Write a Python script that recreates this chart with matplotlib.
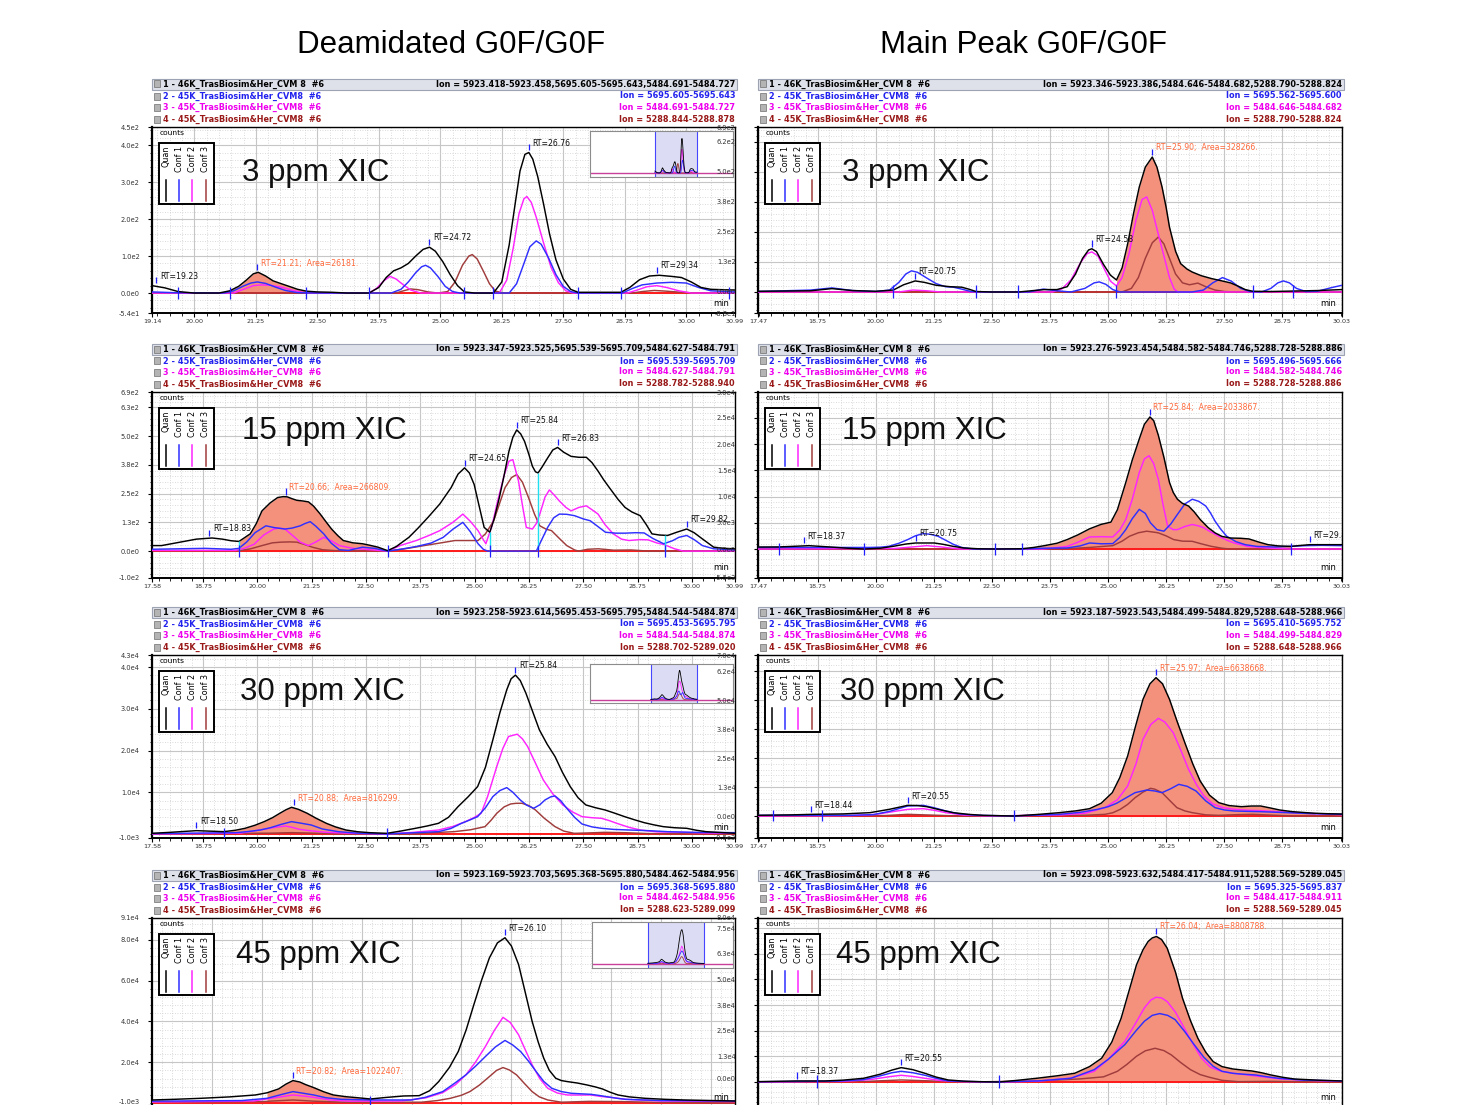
import matplotlib
matplotlib.use("Agg")
import numpy as np
import matplotlib.pyplot as plt
from matplotlib.patches import Rectangle
from matplotlib.ticker import MultipleLocator

# ---- chromatogram traces, (minutes, counts) ----
# row 1, deamidated, 3 ppm
p1_quan = [(19.14,20),(19.4,14),(19.67,4),(20.0,0),(20.5,0),(20.72,6),(20.9,18),(21.05,34),(21.2,52),(21.3,56),
           (21.45,46),(21.6,33),(21.75,26),(21.95,17),(22.1,10),(22.28,5),(22.5,3),(22.8,2),(23.1,0),(23.55,0),
           (23.75,15),(23.9,42),(24.05,60),(24.2,68),(24.35,80),(24.5,100),(24.65,118),(24.78,124),(24.9,113),
           (25.05,85),(25.2,50),(25.35,20),(25.49,3),(25.7,0),(26.08,0),(26.25,30),(26.4,130),(26.52,240),
           (26.62,330),(26.72,375),(26.8,380),(26.88,362),(26.98,315),(27.1,240),(27.22,160),(27.35,90),
           (27.5,38),(27.65,10),(27.8,2),(28.67,2),(28.85,15),(29.05,36),(29.25,46),(29.45,48),(29.7,45),
           (29.9,42),(30.1,30),(30.3,15),(30.5,10),(30.99,8)]
p1_conf1 = [(19.14,3),(19.6,1),(20.6,0),(20.8,6),(21.0,19),(21.15,27),(21.28,30),(21.45,26),(21.65,16),(21.85,7),
            (22.1,1),(22.5,0),(24.0,0),(24.2,10),(24.35,30),(24.5,55),(24.62,71),(24.7,75),(24.8,68),(24.95,45),
            (25.1,18),(25.25,4),(25.4,0),(26.4,0),(26.55,25),(26.7,80),(26.82,125),(26.95,141),(27.05,132),
            (27.2,95),(27.35,50),(27.5,18),(27.65,4),(27.8,0),(28.7,0),(28.9,12),(29.1,22),(29.4,27),(29.7,29),
            (30.0,27),(30.25,15),(30.5,6),(30.99,3)]
p1_conf2 = [(19.14,0),(20.8,0),(21.0,10),(21.2,20),(21.35,22),(21.55,21),(21.8,15),(22.0,7),(22.2,2),(22.4,0),
            (23.55,0),(23.7,12),(23.85,33),(23.98,45),(24.1,38),(24.25,22),(24.4,8),(24.6,0),(26.2,0),(26.35,35),
            (26.48,120),(26.6,215),(26.7,255),(26.76,261),(26.85,245),(26.95,205),(27.1,135),(27.25,70),
            (27.4,28),(27.55,6),(27.7,0),(28.8,0),(29.0,8),(29.2,17),(29.4,20),(29.6,15),(29.85,6),(30.1,0),(30.99,0)]
p1_conf3 = [(19.14,0),(24.1,0),(24.25,6),(24.4,11),(24.55,9),(24.75,3),(24.95,0),(25.15,4),(25.3,30),(25.45,75),
            (25.58,100),(25.65,104),(25.75,92),(25.88,58),(26.0,25),(26.12,5),(26.3,0),(28.9,0),(29.1,4),
            (29.35,7),(29.6,5),(29.9,2),(30.2,0),(30.99,0)]

# row 1, main peak, 3 ppm
p2_quan = [(17.47,3),(18.6,5),(19.06,14),(19.5,6),(20.0,3),(20.38,8),(20.6,30),(20.85,46),(21.05,40),(21.3,28),
           (21.6,22),(21.85,20),(22.0,12),(22.16,2),(22.5,0),(23.07,0),(23.4,6),(23.63,10),(23.9,10),(24.12,22),
           (24.3,75),(24.45,140),(24.58,175),(24.65,180),(24.75,168),(24.9,115),(25.05,70),(25.18,50),(25.3,100),
           (25.42,200),(25.55,330),(25.67,437),(25.8,520),(25.95,562),(26.05,520),(26.16,437),(26.25,350),
           (26.32,270),(26.45,170),(26.56,118),(26.7,95),(26.81,83),(27.0,68),(27.22,56),(27.45,46),(27.63,38),
           (27.8,24),(27.95,10),(28.11,3),(28.5,2),(29.0,4),(29.5,6),(30.03,10)]
p2_conf1 = [(17.47,2),(18.6,8),(19.06,17),(19.5,6),(20.0,2),(20.3,8),(20.5,40),(20.65,75),(20.77,88),(20.9,82),
            (21.1,58),(21.3,35),(21.5,22),(21.67,20),(21.85,12),(22.05,2),(22.3,0),(23.3,0),(23.6,12),(23.9,5),
            (24.2,0),(24.5,15),(24.7,38),(24.81,42),(24.95,32),(25.1,10),(25.25,0),(26.8,0),(27.05,8),(27.25,38),
            (27.46,60),(27.65,45),(27.85,15),(28.05,2),(28.3,0),(28.5,15),(28.65,38),(28.77,46),(28.9,38),
            (29.05,15),(29.25,2),(29.5,3),(29.8,18),(30.03,28)]
p2_conf2 = [(17.47,0),(20.5,0),(20.8,8),(21.1,5),(21.4,0),(23.8,0),(24.0,12),(24.2,50),(24.4,120),(24.55,160),
            (24.65,167),(24.78,150),(24.92,95),(25.05,45),(25.18,25),(25.3,60),(25.45,160),(25.6,300),(25.73,385),
            (25.83,396),(25.95,340),(26.08,240),(26.2,150),(26.32,60),(26.42,12),(26.5,0),(30.03,0)]
p2_conf3 = [(17.47,0),(25.3,0),(25.5,15),(25.65,60),(25.8,140),(25.95,205),(26.08,229),(26.2,200),(26.32,140),
            (26.45,75),(26.6,38),(26.75,30),(26.93,37),(27.1,22),(27.3,8),(27.5,2),(27.7,0),(30.03,0)]

# row 2, deamidated, 15 ppm
p3_quan = [(17.58,24),(17.8,24),(18.2,38),(18.6,52),(18.96,57),(19.2,52),(19.4,45),(19.58,42),(19.84,75),
           (19.98,120),(20.11,175),(20.3,210),(20.47,233),(20.6,237),(20.69,236),(20.8,228),(20.91,221),
           (21.05,218),(21.18,214),(21.3,195),(21.45,161),(21.58,128),(21.71,96),(21.85,68),(21.98,46),(22.2,36),
           (22.42,32),(22.6,25),(22.78,17),(23.0,2),(23.2,20),(23.49,60),(23.7,100),(23.93,147),(24.2,205),
           (24.46,276),(24.62,335),(24.77,362),(24.88,340),(24.99,290),(25.1,200),(25.22,103),(25.35,82),
           (25.45,140),(25.57,233),(25.68,330),(25.79,434),(25.88,495),(25.97,527),(26.06,510),(26.15,477),
           (26.25,420),(26.33,369),(26.4,345),(26.46,340),(26.55,365),(26.68,405),(26.8,440),(26.91,451),
           (27.05,430),(27.22,412),(27.4,408),(27.57,408),(27.7,385),(27.84,348),(27.97,310),(28.1,276),
           (28.3,225),(28.46,190),(28.62,170),(28.81,154),(28.95,115),(29.08,75),(29.25,70),(29.44,68),
           (29.65,82),(29.88,96),(30.05,80),(30.24,53),(30.5,17),(30.75,12),(30.99,10)]
p3_conf1 = [(17.58,8),(18.8,12),(19.4,8),(19.58,12),(19.76,40),(19.95,80),(20.2,110),(20.4,102),(20.64,96),
            (20.8,100),(20.99,110),(21.1,120),(21.22,128),(21.35,108),(21.53,75),(21.7,35),(21.89,6),(22.1,3),
            (22.42,17),(22.7,12),(23.0,0),(23.3,8),(23.66,20),(24.0,35),(24.28,60),(24.5,95),(24.73,125),
            (24.9,85),(25.08,32),(25.2,8),(25.3,0),(26.42,0),(26.52,40),(26.68,103),(26.82,145),(26.95,161),
            (27.12,160),(27.3,154),(27.5,140),(27.66,132),(27.85,105),(28.01,82),(28.25,78),(28.46,78),(28.7,80),
            (28.9,79),(29.1,55),(29.35,32),(29.55,45),(29.7,60),(29.88,68),(30.05,50),(30.24,24),(30.5,10),(30.99,5)]
p3_conf2 = [(17.58,3),(19.5,3),(19.7,12),(19.93,30),(20.15,70),(20.38,96),(20.5,100),(20.64,96),(20.8,70),
            (20.99,39),(21.18,24),(21.35,40),(21.53,60),(21.7,45),(21.89,24),(22.2,12),(22.6,6),(23.0,0),(23.3,25),
            (23.66,46),(23.95,68),(24.2,89),(24.5,125),(24.73,161),(24.9,130),(25.08,89),(25.2,50),(25.26,32),
            (25.4,110),(25.53,218),(25.68,330),(25.79,391),(25.88,398),(25.96,340),(26.01,305),(26.1,200),
            (26.19,103),(26.33,96),(26.42,120),(26.5,161),(26.62,235),(26.72,266),(26.85,240),(26.95,218),
            (27.1,190),(27.22,175),(27.4,190),(27.57,197),(27.7,180),(27.84,161),(28.0,115),(28.19,75),(28.38,52),
            (28.55,46),(28.8,50),(28.99,49),(29.2,35),(29.35,29),(29.6,10),(29.8,0),(30.99,0)]
p3_conf3 = [(17.58,2),(19.6,2),(19.85,10),(20.11,24),(20.35,36),(20.55,39),(20.75,40),(20.91,39),(21.1,28),
            (21.27,17),(21.5,6),(21.8,2),(23.0,0),(23.4,10),(23.84,24),(24.2,35),(24.55,46),(24.85,46),(25.08,46),
            (25.25,75),(25.44,132),(25.58,210),(25.7,276),(25.85,320),(25.97,333),(26.1,300),(26.24,233),
            (26.38,160),(26.5,110),(26.65,95),(26.77,89),(26.95,55),(27.12,24),(27.3,5),(27.39,0),(27.6,8),
            (27.85,10),(28.2,4),(28.6,5),(29.0,0),(30.99,0)]

# row 2, main peak, 15 ppm
p4_quan = [(17.47,380),(17.92,400),(18.2,500),(18.57,640),(19.0,400),(19.4,150),(19.75,0),(20.1,150),(20.4,550),
           (20.65,950),(20.86,1150),(21.05,1150),(21.26,1150),(21.45,900),(21.67,500),(21.9,200),(22.2,50),
           (22.57,0),(23.14,50),(23.4,300),(23.63,640),(23.9,1100),(24.12,1800),(24.35,2700),(24.6,3850),
           (24.85,4700),(25.06,5130),(25.2,7500),(25.38,12700),(25.52,17000),(25.67,21000),(25.78,23800),
           (25.9,25200),(25.98,24500),(26.08,21700),(26.2,17500),(26.32,12700),(26.4,10800),(26.49,9500),
           (26.6,8700),(26.73,8200),(26.85,7100),(26.98,5640),(27.15,4100),(27.3,3080),(27.45,2400),(27.63,2100),
           (27.85,2050),(28.03,1920),(28.25,1300),(28.44,830),(28.65,600),(28.93,500),(29.1,650),(29.34,830),
           (29.7,830),(30.03,830)]
p4_conf1 = [(17.47,300),(19.5,300),(19.87,300),(20.1,350),(20.28,510),(20.5,1100),(20.69,1800),(20.85,2500),
            (21.02,2950),(21.18,2800),(21.34,2440),(21.5,1700),(21.67,900),(21.85,300),(22.1,0),(23.14,0),
            (23.6,150),(24.12,200),(24.4,600),(24.6,1150),(24.85,1000),(25.1,1030),(25.25,2200),(25.38,3700),
            (25.52,5800),(25.67,7560),(25.8,6800),(25.91,5000),(26.05,3700),(26.2,3400),(26.35,4800),(26.49,6600),
            (26.65,8600),(26.81,9500),(26.95,9100),(27.1,8200),(27.2,6900),(27.3,5320),(27.42,3800),(27.55,2440),
            (27.75,1400),(27.95,830),(28.2,500),(28.6,380),(29.26,640),(29.6,700),(30.03,640)]
p4_conf2 = [(17.47,0),(20.4,100),(20.8,400),(21.1,640),(21.4,400),(21.8,0),(23.6,0),(24.12,500),(24.35,1300),
            (24.6,2300),(24.85,2350),(25.1,2300),(25.25,3600),(25.38,5640),(25.52,9500),(25.67,14600),(25.78,17200),
            (25.88,17800),(25.98,16300),(26.08,13300),(26.18,8500),(26.28,4360),(26.4,3700),(26.49,3700),
            (26.65,4300),(26.81,4680),(26.95,4400),(27.06,4040),(27.2,3300),(27.38,2440),(27.55,1700),
            (27.71,1150),(28.0,500),(28.4,200),(28.9,0),(30.03,0)]
p4_conf3 = [(17.47,0),(24.0,0),(24.6,300),(25.1,640),(25.3,1500),(25.46,2440),(25.65,3100),(25.83,3400),(26.0,3200),
            (26.08,3080),(26.25,2500),(26.41,1800),(26.6,1500),(26.81,1470),(27.0,1000),(27.22,510),(27.45,150),
            (27.63,0),(30.03,0)]

# row 3, deamidated, 30 ppm
p5_quan = [(17.58,160),(18.0,400),(18.6,800),(19.0,650),(19.23,560),(19.5,900),(19.72,1360),(19.95,2100),
           (20.16,2960),(20.35,3900),(20.52,4960),(20.66,5800),(20.79,6400),(20.95,5900),(21.15,4960),(21.35,3800),
           (21.59,2560),(21.8,1700),(22.04,960),(22.3,550),(22.58,320),(22.98,160),(23.3,700),(23.64,1360),
           (23.9,1900),(24.17,2560),(24.4,4000),(24.62,6560),(24.85,8900),(25.07,11360),(25.25,16000),
           (25.42,22560),(25.58,29000),(25.74,34560),(25.84,37200),(25.94,38080),(26.05,36800),(26.18,33760),
           (26.33,29500),(26.49,24960),(26.67,21500),(26.85,18560),(27.02,14800),(27.2,11360),(27.38,8700),
           (27.56,6960),(27.78,6300),(28.0,5760),(28.22,5000),(28.45,4160),(28.68,3400),(28.9,2720),(29.12,2200),
           (29.34,1760),(29.6,1500),(29.88,1360),(30.1,900),(30.32,560),(30.99,160)]
p5_conf1 = [(17.58,100),(19.5,300),(19.8,600),(20.07,960),(20.3,1500),(20.55,2300),(20.79,2960),(21.0,2600),
            (21.24,2160),(21.5,1200),(21.86,560),(22.3,200),(22.98,0),(23.6,300),(24.17,560),(24.45,1300),
            (24.7,2560),(24.9,3400),(25.07,4160),(25.25,6300),(25.42,8960),(25.58,10400),(25.74,11120),
            (25.88,10000),(26.05,8160),(26.2,6900),(26.36,6160),(26.5,7000),(26.62,8160),(26.75,8900),(26.85,9120),
            (26.98,8000),(27.12,6160),(27.3,4000),(27.47,2400),(27.7,1700),(27.92,1360),(28.2,1100),(28.54,960),
            (29.0,800),(29.43,560),(30.0,400),(30.99,320)]
p5_conf2 = [(17.58,0),(19.6,200),(20.07,960),(20.35,1500),(20.65,1920),(20.8,1600),(20.97,1120),(21.2,800),
            (21.59,400),(22.2,150),(22.98,0),(23.6,400),(24.17,960),(24.5,1800),(24.79,2960),(25.0,4000),
            (25.15,4960),(25.3,9000),(25.51,16160),(25.65,20500),(25.78,23360),(25.98,23920),(26.1,22800),
            (26.22,20960),(26.4,17000),(26.58,12960),(26.8,9600),(27.03,6960),(27.25,5300),(27.47,4160),
            (27.7,3900),(27.92,3760),(28.1,3200),(28.27,2560),(28.55,1600),(28.81,960),(29.2,500),(29.8,400),
            (30.5,200),(30.99,160)]
p5_conf3 = [(17.58,0),(20.3,200),(20.79,320),(21.3,200),(22.0,0),(23.64,0),(24.0,300),(24.53,560),(24.9,1000),
            (25.24,1760),(25.38,3300),(25.51,4960),(25.68,6500),(25.83,7200),(25.95,7350),(26.09,7360),
            (26.25,6800),(26.4,5760),(26.6,3800),(26.85,1760),(27.05,700),(27.29,160),(27.6,250),(28.0,400),
            (28.5,300),(29.0,100),(30.99,0)]

# row 3, main peak, 30 ppm
p6_quan = [(17.47,300),(18.2,500),(18.65,720),(19.3,900),(19.88,1440),(20.3,2900),(20.69,4600),(20.9,4500),
           (21.1,4020),(21.4,2600),(21.67,1440),(22.0,700),(22.32,290),(22.98,0),(23.5,700),(23.95,1440),
           (24.3,2200),(24.6,3160),(24.85,5500),(25.09,10060),(25.25,16500),(25.42,25870),(25.58,38000),
           (25.75,50300),(25.9,57000),(26.03,59640),(26.17,57000),(26.32,50300),(26.48,41000),(26.65,31600),
           (26.82,22500),(26.98,15090),(27.18,9000),(27.38,5750),(27.6,4500),(27.87,4020),(28.08,4300),
           (28.28,4310),(28.48,3500),(28.69,2590),(28.95,1900),(29.26,1440),(29.45,1200),(29.7,1000),(30.03,860)]
p6_conf1 = [(17.47,300),(19.5,300),(19.95,600),(20.3,2000),(20.69,4310),(21.02,4600),(21.25,3600),(21.51,2160),
            (21.8,900),(22.2,300),(22.98,0),(23.95,720),(24.4,1600),(24.77,2870),(25.0,4000),(25.18,5460),
            (25.4,8000),(25.58,10060),(25.83,11200),(26.0,10800),(26.16,10060),(26.35,11800),(26.52,13650),
            (26.7,12800),(26.89,10780),(27.1,6500),(27.3,3590),(27.5,2600),(27.71,2160),(28.0,2000),(28.28,1870),
            (28.85,1440),(29.4,1000),(30.03,720)]
p6_conf2 = [(17.47,0),(19.5,200),(20.0,700),(20.35,1800),(20.69,2870),(21.02,3160),(21.25,2500),(21.51,1440),
            (21.9,400),(22.5,0),(24.0,500),(24.5,1200),(24.93,3590),(25.2,7000),(25.42,12930),(25.6,22500),
            (25.75,33050),(25.92,39500),(26.08,42100),(26.22,40500),(26.4,35930),(26.56,28500),(26.73,20100),
            (26.9,13500),(27.06,8620),(27.25,5200),(27.47,3590),(27.7,2900),(28.0,2500),(28.28,2300),(28.7,1800),
            (29.2,1200),(30.03,570)]
p6_conf3 = [(17.47,0),(20.2,200),(20.69,720),(21.2,400),(21.8,0),(24.5,300),(24.93,720),(25.1,1400),(25.26,2870),
            (25.42,5000),(25.58,7900),(25.75,10300),(25.91,11930),(26.0,11600),(26.16,10060),(26.32,6800),
            (26.48,3590),(26.65,2200),(26.81,1440),(27.1,500),(27.38,290),(27.8,600),(28.11,720),(28.5,400),
            (29.0,0),(30.03,0)]

# row 4, deamidated, 45 ppm
p7_quan = [(17.25,1480),(17.8,1800),(18.47,2300),(19.2,3000),(19.84,3940),(20.13,5000),(20.42,6890),(20.6,9200),
           (20.78,10990),(20.95,10300),(21.1,9000),(21.3,7540),(21.55,5500),(21.79,3940),(22.1,3100),(22.38,2620),
           (22.72,1970),(23.1,2700),(23.55,3440),(23.94,3600),(24.2,6000),(24.43,10500),(24.7,17500),
           (24.92,25260),(25.12,36000),(25.31,48200),(25.5,60000),(25.7,71180),(25.9,78500),(26.09,81020),
           (26.25,77000),(26.43,67900),(26.6,54000),(26.77,40000),(26.92,30000),(27.06,21980),(27.2,16000),
           (27.36,12140),(27.5,11000),(27.65,10500),(27.9,9800),(28.14,8860),(28.35,7900),(28.53,6890),
           (28.72,5300),(28.92,3940),(29.2,3000),(29.6,2300),(30.1,1800),(30.58,1480),(31.85,980)]
p7_conf1 = [(17.25,900),(19.5,1200),(20.13,2300),(20.5,4200),(20.78,5580),(21.0,4900),(21.3,3940),(21.6,2600),
            (21.99,1800),(22.7,1500),(23.74,1480),(24.1,2800),(24.53,5580),(24.85,10000),(25.11,13780),
            (25.35,18000),(25.6,22800),(25.85,27500),(26.09,30670),(26.28,28500),(26.48,25260),(26.68,20500),
            (26.87,15420),(27.06,10600),(27.26,7220),(27.5,5600),(27.75,4760),(28.0,4500),(28.24,4260),
            (28.45,3700),(28.63,3120),(28.9,2300),(29.11,1800),(30.0,1200),(31.85,980)]
p7_conf2 = [(17.25,500),(19.8,1000),(20.3,2500),(20.78,3940),(21.1,3300),(21.3,2790),(21.7,1500),(22.2,900),
            (23.5,1000),(24.1,2500),(24.53,5080),(24.85,9000),(25.11,13780),(25.35,20000),(25.6,27720),
            (25.82,35500),(26.04,42000),(26.22,39500),(26.43,33460),(26.6,26000),(26.77,18700),(26.96,12000),
            (27.16,7220),(27.4,4900),(27.65,3940),(27.9,3900),(28.24,3940),(28.5,3200),(28.8,2620),(29.11,1800),
            (30.0,1000),(31.85,700)]
p7_conf3 = [(17.25,300),(20.0,700),(20.78,1480),(21.3,900),(22.0,400),(24.0,400),(24.4,1200),(24.72,2300),
            (25.0,3800),(25.21,5580),(25.45,8800),(25.7,12960),(25.88,16000),(26.04,17380),(26.2,16200),
            (26.38,13780),(26.58,9500),(26.77,5580),(26.95,3000),(27.16,1480),(27.5,400),(28.2,800),(29.0,700),
            (30.0,300),(31.85,0)]

# row 4, main peak, 45 ppm
p8_quan = [(17.47,160),(18.3,490),(18.91,490),(19.3,900),(19.74,1790),(20.1,3800),(20.35,5800),(20.55,7000),
           (20.8,6000),(21.06,4230),(21.3,2400),(21.56,980),(21.9,400),(22.22,160),(22.65,0),(23.0,700),
           (23.46,1790),(23.9,3000),(24.28,4230),(24.6,7500),(24.86,11560),(25.08,19500),(25.28,31100),
           (25.45,44500),(25.61,57150),(25.75,64500),(25.86,68540),(25.95,70300),(26.04,70980),(26.15,69500),
           (26.27,65290),(26.45,53500),(26.6,40870),(26.77,30000),(26.93,21330),(27.1,14500),(27.26,9930),
           (27.45,7500),(27.68,6350),(27.9,5800),(28.09,5370),(28.3,4500),(28.5,3420),(28.75,2300),(29.0,1460),
           (29.5,900),(30.03,490)]
p8_conf1 = [(17.47,100),(19.2,400),(19.74,1140),(20.1,3000),(20.35,4500),(20.55,5210),(20.8,4500),(21.06,3260),
            (21.3,1800),(21.56,500),(22.0,200),(22.65,0),(23.5,500),(24.2,1800),(24.7,6020),(25.0,11000),
            (25.36,18230),(25.6,25000),(25.78,29630),(25.95,32500),(26.11,33370),(26.28,32500),(26.44,30440),
            (26.65,24500),(26.85,18230),(27.06,12000),(27.26,7650),(27.45,5200),(27.68,4230),(27.9,3800),
            (28.17,3420),(28.4,2600),(28.67,1790),(29.2,900),(30.03,500)]
p8_conf2 = [(17.47,0),(19.3,300),(19.9,1200),(20.3,2600),(20.55,3260),(20.8,2700),(21.06,1790),(21.4,700),
            (21.8,200),(22.65,0),(23.5,400),(24.2,1900),(24.7,5210),(25.0,11000),(25.36,19860),(25.6,29000),
            (25.78,36140),(25.92,40000),(26.03,41350),(26.15,41000),(26.27,39230),(26.45,34000),(26.6,27840),
            (26.8,19500),(27.01,11560),(27.2,7200),(27.43,5210),(27.7,4200),(28.0,3420),(28.3,2600),(28.7,1500),
            (29.3,800),(30.03,300)]
p8_conf3 = [(17.47,0),(19.8,300),(20.55,980),(21.2,500),(22.0,0),(23.5,500),(24.4,1500),(24.9,2500),(25.2,5210),
            (25.4,8500),(25.61,12540),(25.8,15200),(26.01,16440),(26.2,15300),(26.36,13190),(26.56,9500),
            (26.77,6020),(26.98,3600),(27.18,2280),(27.45,800),(27.8,150),(28.5,300),(29.0,150),(30.03,0)]

# ---- labels ----
titles = ["Deamidated G0F/G0F", "Main Peak G0F/G0F"]
ppm_labels = ["3 ppm XIC", "15 ppm XIC", "30 ppm XIC", "45 ppm XIC"]
trace_names = ["1 - 46K_TrasBiosim&Her_CVM 8  #6", "2 - 45K_TrasBiosim&Her_CVM8  #6",
               "3 - 45K_TrasBiosim&Her_CVM8  #6", "4 - 45K_TrasBiosim&Her_CVM8  #6"]
legend_names = ["Quan", "Conf 1", "Conf 2", "Conf 3"]

p1_ions = ["Ion = 5923.418-5923.458,5695.605-5695.643,5484.691-5484.727", "Ion = 5695.605-5695.643",
           "Ion = 5484.691-5484.727", "Ion = 5288.844-5288.878"]
p2_ions = ["Ion = 5923.346-5923.386,5484.646-5484.682,5288.790-5288.824", "Ion = 5695.562-5695.600",
           "Ion = 5484.646-5484.682", "Ion = 5288.790-5288.824"]
p3_ions = ["Ion = 5923.347-5923.525,5695.539-5695.709,5484.627-5484.791", "Ion = 5695.539-5695.709",
           "Ion = 5484.627-5484.791", "Ion = 5288.782-5288.940"]
p4_ions = ["Ion = 5923.276-5923.454,5484.582-5484.746,5288.728-5288.886", "Ion = 5695.496-5695.666",
           "Ion = 5484.582-5484.746", "Ion = 5288.728-5288.886"]
p5_ions = ["Ion = 5923.258-5923.614,5695.453-5695.795,5484.544-5484.874", "Ion = 5695.453-5695.795",
           "Ion = 5484.544-5484.874", "Ion = 5288.702-5289.020"]
p6_ions = ["Ion = 5923.187-5923.543,5484.499-5484.829,5288.648-5288.966", "Ion = 5695.410-5695.752",
           "Ion = 5484.499-5484.829", "Ion = 5288.648-5288.966"]
p7_ions = ["Ion = 5923.169-5923.703,5695.368-5695.880,5484.462-5484.956", "Ion = 5695.368-5695.880",
           "Ion = 5484.462-5484.956", "Ion = 5288.623-5289.099"]
p8_ions = ["Ion = 5923.098-5923.632,5484.417-5484.911,5288.569-5289.045", "Ion = 5695.325-5695.837",
           "Ion = 5484.417-5484.911", "Ion = 5288.569-5289.045"]

# peak labels: text, RT of the apex marker, height of apex, highlighted?
p1_peaks = [("RT=19.23", 19.23, 20, 0), ("RT=21.21;  Area=26181.", 21.28, 56, 1), ("RT=24.72", 24.78, 124, 0),
            ("RT=26.76", 26.8, 380, 0), ("RT=29.34", 29.4, 48, 0)]
p2_peaks = [("RT=20.75", 20.85, 46, 0), ("RT=24.58", 24.65, 180, 0), ("RT=25.90;  Area=328266.", 25.95, 562, 1)]
p3_peaks = [("RT=18.83", 18.9, 57, 0), ("RT=20.66;  Area=266809.", 20.66, 236, 1), ("RT=24.65", 24.77, 362, 0),
            ("RT=25.84", 25.97, 527, 0), ("RT=26.83", 26.91, 451, 0), ("RT=29.82", 29.88, 96, 0)]
p4_peaks = [("RT=18.37", 18.45, 640, 0), ("RT=20.75", 20.86, 1150, 0), ("RT=25.84;  Area=2033867.", 25.9, 25200, 1),
            ("RT=29.47", 29.34, 830, 0)]
p5_peaks = [("RT=18.50", 18.6, 800, 0), ("RT=20.88;  Area=816299.", 20.85, 6400, 1), ("RT=25.84", 25.94, 38080, 0)]
p6_peaks = [("RT=18.44", 18.6, 720, 0), ("RT=20.55", 20.69, 4600, 0), ("RT=25.97;  Area=6638668.", 26.03, 59640, 1)]
p7_peaks = [("RT=20.82;  Area=1022407.", 20.78, 10990, 1), ("RT=26.10", 26.09, 81020, 0)]
p8_peaks = [("RT=18.37", 18.3, 490, 0), ("RT=20.55", 20.55, 7000, 0), ("RT=26.04;  Area=8808788.", 26.04, 70980, 1)]

# integration boundary marks (minutes)
p1_bounds = [19.67, 20.72, 22.28, 23.55, 25.49, 26.08, 27.8, 28.67, 30.86]
p2_bounds = [20.38, 22.16, 23.07, 25.18, 28.11, 28.97]
p3_bounds = [19.58, 23.0, 25.35, 26.46, 29.39]
p4_bounds = [17.92, 19.75, 22.57, 23.14, 28.93]
p5_bounds = [19.23, 22.98]
p6_bounds = [17.8, 18.85, 22.98]
p7_bounds = [22.72]
p8_bounds = [18.74, 22.65]
p3_drops = [(19.58, 42), (25.35, 82), (26.46, 340), (29.39, 69)]

left_ticks = [20.0, 21.25, 22.5, 23.75, 25.0, 26.25, 27.5, 28.75, 30.0]
right_ticks = [17.47, 18.75, 20.0, 21.25, 22.5, 23.75, 25.0, 26.25, 27.5, 28.75, 30.03]

QUAN, CONF1, CONF2, CONF3 = "#000000", "#2f2fff", "#ff24ff", "#a03c3c"
FILL, ORANGE, CYAN = "#f3917d", "#ff6a3c", "#1ee0f0"
W, H = 1460, 1105

panels = [
    dict(col=0, row=0, curves=(p1_quan, p1_conf1, p1_conf2, p1_conf3), ions=p1_ions, peaks=p1_peaks,
         bounds=p1_bounds, xlim=(19.14, 30.99), ylim=(-54, 449), fill=(20.72, 22.28),
         xt=[19.14] + left_ticks + [30.99], yt=[-54, 0, 100, 200, 300, 400, 449],
         yl=["-5.4e1", "0.0e0", "1.0e2", "2.0e2", "3.0e2", "4.0e2", "4.5e2"], ym=20,
         inset=((590, 131, 733, 177), (0.8, 41.2))),
    dict(col=1, row=0, curves=(p2_quan, p2_conf1, p2_conf2, p2_conf3), ions=p2_ions, peaks=p2_peaks,
         bounds=p2_bounds, xlim=(17.47, 30.03), ylim=(-87.5, 687), fill=(25.18, 28.11),
         xt=right_ticks, yt=[-87.5, 0, 125, 250, 375, 500, 625, 687],
         yl=["-8.8e1", "0.0e0", "1.3e2", "2.5e2", "3.8e2", "5.0e2", "6.2e2", "6.9e2"], ym=25),
    dict(col=0, row=1, curves=(p3_quan, p3_conf1, p3_conf2, p3_conf3), ions=p3_ions, peaks=p3_peaks,
         bounds=p3_bounds, xlim=(17.58, 30.99), ylim=(-117, 692), fill=(19.58, 23.0), drops=p3_drops,
         xt=[17.58, 18.75] + left_ticks + [30.99], yt=[-117, 0, 125, 250, 375, 500, 625, 692],
         yl=["-1.0e2", "0.0e0", "1.3e2", "2.5e2", "3.8e2", "5.0e2", "6.3e2", "6.9e2"], ym=25),
    dict(col=1, row=1, curves=(p4_quan, p4_conf1, p4_conf2, p4_conf3), ions=p4_ions, peaks=p4_peaks,
         bounds=p4_bounds, xlim=(17.47, 30.03), ylim=(-5530, 29960), fill=(23.14, 28.93),
         xt=right_ticks, yt=[-5530, 0, 5000, 10000, 15000, 20000, 25000, 29960],
         yl=["-5.5e3", "0.0e0", "5.0e3", "1.0e4", "1.5e4", "2.0e4", "2.5e4", "3.0e4"], ym=1000),
    dict(col=0, row=2, curves=(p5_quan, p5_conf1, p5_conf2, p5_conf3), ions=p5_ions, peaks=p5_peaks,
         bounds=p5_bounds, xlim=(17.58, 30.99), ylim=(-960, 42900), fill=(19.23, 22.98),
         xt=[17.58, 18.75] + left_ticks + [30.99], yt=[-960, 10000, 20000, 30000, 40000, 42900],
         yl=["-1.0e3", "1.0e4", "2.0e4", "3.0e4", "4.0e4", "4.3e4"], ym=2000,
         inset=((590, 664, 733, 703), (-0.2, 41.5))),
    dict(col=1, row=2, curves=(p6_quan, p6_conf1, p6_conf2, p6_conf3), ions=p6_ions, peaks=p6_peaks,
         bounds=p6_bounds, xlim=(17.47, 30.03), ylim=(-9480, 69400), fill=(22.98, 29.45),
         xt=right_ticks, yt=[-9480, 0, 12500, 25000, 37500, 50000, 62500, 69400],
         yl=["-9.5e3", "0.0e0", "1.3e4", "2.5e4", "3.8e4", "5.0e4", "6.2e4", "7.0e4"], ym=2500),
    dict(col=0, row=3, curves=(p7_quan, p7_conf1, p7_conf2, p7_conf3), ions=p7_ions, peaks=p7_peaks,
         bounds=p7_bounds, xlim=(17.25, 31.85), ylim=(-2450, 90700), fill=(20.13, 22.72),
         xt=[18.75] + left_ticks + [31.25], yt=[-1000, 20000, 40000, 60000, 80000, 90700],
         yl=["-1.0e3", "2.0e4", "4.0e4", "6.0e4", "8.0e4", "9.1e4"], ym=4000,
         inset=((592, 922, 733, 968), (2.7, 39.4))),
    dict(col=1, row=3, curves=(p8_quan, p8_conf1, p8_conf2, p8_conf3), ions=p8_ions, peaks=p8_peaks,
         bounds=p8_bounds, xlim=(17.47, 30.03), ylim=(-12700, 80000), fill=(22.65, 30.03),
         xt=right_ticks, yt=[0, 12500, 25000, 37500, 50000, 62500, 75000, 80000],
         yl=["0.0e0", "1.3e4", "2.5e4", "3.8e4", "5.0e4", "6.3e4", "7.5e4", "8.0e4"], ym=2500),
]

COLS = [(152, 735), (758, 1342)]
ROWS = [(127, 313), (392, 578), (655, 838), (918, 1108)]
PPM_DX = [[90, 90, 88, 84], [84, 84, 82, 78]]
PPM_DY = [46, 39, 37, 37]
HDR_COLORS = ["#000000", "#2222ee", "#ee00ee", "#991818"]

fig = plt.figure(figsize=(W / 100, H / 100), dpi=100)


def px_axes(x0, y0, x1, y1):
    return fig.add_axes([x0 / W, 1 - y1 / H, (x1 - x0) / W, (y1 - y0) / H])


def ftext(x, y, s, **kw):
    fig.text(x / W, 1 - y / H, s, **kw)


def frect(x0, y0, x1, y1, **kw):
    fig.patches.append(Rectangle((x0 / W, 1 - y1 / H), (x1 - x0) / W, (y1 - y0) / H,
                                 transform=fig.transFigure, figure=fig, **kw))


big = ["Liberation Sans", "DejaVu Sans"]
ftext(451, 45, titles[0], fontsize=22.5, family=big, ha="center", va="center")
ftext(1023, 45, titles[1], fontsize=22.5, family=big, ha="center", va="center")

for p in panels:
    x0, x1 = COLS[p["col"]]
    ty, by = ROWS[p["row"]]
    wpx, hpx = x1 - x0, by - ty

    # header lines above the frame
    frect(x0, ty - 48.5, x1 + 2, ty - 37.5, facecolor="#dfe1ea", edgecolor="#9ea3b4", lw=0.8)
    for k, off in enumerate([43, 31, 20, 8]):
        yy = ty - off
        frect(x0 + 2, yy - 3.5, x0 + 8, yy + 3.5, facecolor="#b4b4b4", edgecolor="#6e6e6e", lw=0.5)
        ftext(x0 + 11, yy, trace_names[k], fontsize=5.9, fontweight="bold", color=HDR_COLORS[k],
              va="center", ha="left")
        ftext(x1, yy, p["ions"][k], fontsize=5.9, fontweight="bold", color=HDR_COLORS[k],
              va="center", ha="right")

    ax = px_axes(x0, ty, x1, by)
    ax.set_xlim(*p["xlim"])
    ax.set_ylim(*p["ylim"])
    ymin, ymax = p["ylim"]
    yr = ymax - ymin
    xr = p["xlim"][1] - p["xlim"][0]

    ax.set_xticks(p["xt"])
    ax.set_xticklabels(["%.2f" % v for v in p["xt"]])
    ax.set_yticks(p["yt"])
    ylabs = ax.set_yticklabels(p["yl"])
    if p["row"] == 3:
        # bottom row runs off the page: keep its lowest label above the edge
        ylabs[0].set_va("bottom")
    ax.xaxis.set_minor_locator(MultipleLocator(0.25))
    ax.yaxis.set_minor_locator(MultipleLocator(p["ym"]))
    ax.grid(which="major", color="#c6c6c6", lw=0.8)
    ax.grid(which="minor", color="#cfcfcf", lw=0.6, ls=(0, (1, 2)))
    ax.set_axisbelow(True)
    pad = 5.8 if p["col"] == 0 else 13
    ax.tick_params(axis="y", which="major", length=3, width=0.8, pad=pad, labelsize=4.8, labelcolor="#333333")
    ax.tick_params(axis="y", which="minor", length=1.8, width=0.6)
    ax.tick_params(axis="x", which="major", length=3, width=0.8, pad=1.5, labelsize=4.6, labelcolor="#333333",
                   labelbottom=p["row"] != 3)
    ax.tick_params(axis="x", which="minor", length=1.8, width=0.6)
    for s in ax.spines.values():
        s.set_linewidth(1.0)
    ax.spines["left"].set_linewidth(1.6)
    ax.spines["bottom"].set_linewidth(1.4)

    quan = np.array(p["curves"][0], dtype=float)
    a, b = p["fill"]
    mask = (quan[:, 0] >= a) & (quan[:, 0] <= b)
    ax.fill_between(quan[:, 0], 0, quan[:, 1], where=mask, color=FILL, lw=0, zorder=1.5)
    ax.axhline(0, color="#ff1a1a", lw=1.4, zorder=2)
    for data, c in zip(p["curves"][::-1], [CONF3, CONF2, CONF1, QUAN]):
        arr = np.array(data, dtype=float)
        ax.plot(arr[:, 0], arr[:, 1], color=c, lw=1.05, zorder=3)

    for t, v in p.get("drops", []):
        ax.vlines(t, 0, v, color=CYAN, lw=1.0, zorder=3.5)
    ax.vlines(p["bounds"], -0.03 * yr, 0.035 * yr, color="#1f1fff", lw=0.9, zorder=4)

    for label, t, v, hot in p["peaks"]:
        ax.vlines(t, v + 0.012 * yr, v + 0.045 * yr, color="#1f1fff", lw=0.9, zorder=4)
        txt = ax.text(t + 0.006 * xr, v + 0.05 * yr, label, fontsize=5.6, ha="left", va="center",
                      color=ORANGE if hot else "#111111", zorder=5)
        txt.set_clip_on(True)

    # small boxes inside the frame
    ax.text(8 / wpx, 1 - 6 / hpx, "counts", transform=ax.transAxes, fontsize=5.4, va="center", ha="left")
    ax.text(1 - 6 / wpx, 10 / hpx, "min", transform=ax.transAxes, fontsize=6, va="center", ha="right")
    bx, btop, bw, bh = 7, 16, 55, 61
    ax.add_patch(Rectangle((bx / wpx, 1 - (btop + bh) / hpx), bw / wpx, bh / hpx, transform=ax.transAxes,
                           facecolor="white", edgecolor="black", lw=1.4, zorder=6))
    for k, name in enumerate(legend_names):
        lx = (bx + 6.6 + 13.4 * k) / wpx
        ax.text(lx, 1 - (btop + 3) / hpx, name, rotation=90, transform=ax.transAxes, fontsize=5.8,
                ha="center", va="top", zorder=7)
        ax.plot([lx, lx], [1 - (btop + 37) / hpx, 1 - (btop + 58) / hpx], transform=ax.transAxes,
                color=[QUAN, CONF1, CONF2, CONF3][k], lw=1.1, zorder=7)
    ax.text((PPM_DX[p["col"]][p["row"]]) / wpx, 1 - PPM_DY[p["row"]] / hpx, ppm_labels[p["row"]],
            transform=ax.transAxes, fontsize=22.5, family=big, ha="left", va="center", color="#111111", zorder=7)

    if "inset" in p:
        (ix0, iy0, ix1, iy1), ixlim = p["inset"]
        ins = px_axes(ix0, iy0, ix1, iy1)
        ins.set_xlim(*ixlim)
        pk = quan[:, 1].max()
        ins.set_ylim(-0.12 * pk, 1.22 * pk)
        ins.axvspan(p["xlim"][0], p["xlim"][1], color="#dcdcf4", lw=0)
        ins.axvline(p["xlim"][0], color="#4646ff", lw=0.8)
        ins.axvline(p["xlim"][1], color="#4646ff", lw=0.8)
        ins.axhline(0, color="#c8409a", lw=1.0)
        for data, c in zip(p["curves"][::-1], [CONF3, CONF2, CONF1, QUAN]):
            arr = np.array(data, dtype=float)
            ins.plot(arr[:, 0], arr[:, 1], color=c, lw=0.6)
        ins.set_xticks([])
        ins.set_yticks([])
        for s in ins.spines.values():
            s.set_color("#8c8c8c")
            s.set_linewidth(0.8)

fig.savefig("out.png", dpi=100)
